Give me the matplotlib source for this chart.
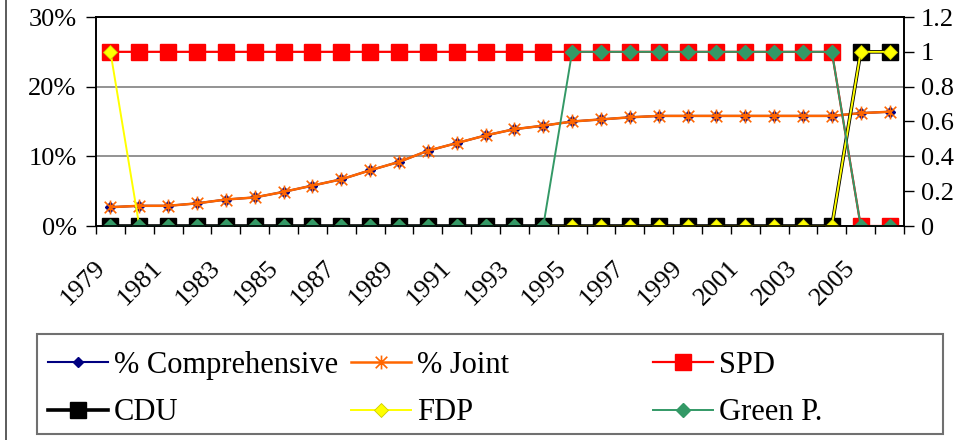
import numpy as np
import matplotlib
matplotlib.use("Agg")
import matplotlib.pyplot as plt
from matplotlib.patches import Rectangle
from matplotlib.lines import Line2D
from matplotlib.path import Path
from matplotlib.transforms import ScaledTranslation

plt.rcParams["font.family"] = ["Liberation Serif", "DejaVu Serif"]

years = list(range(1979, 2007))
comprehensive = [2.7, 2.9, 2.9, 3.25, 3.8, 4.1, 4.9, 5.8, 6.7, 8.0, 9.2, 10.8, 11.9, 13.0,
                 13.9, 14.4, 15.0, 15.3, 15.6, 15.8, 15.8, 15.8, 15.8, 15.8, 15.8, 15.8, 16.2, 16.4]
joint = [2.7, 2.9, 2.9, 3.25, 3.8, 4.1, 4.9, 5.8, 6.7, 8.0, 9.2, 10.8, 11.9, 13.0,
         13.9, 14.4, 15.0, 15.3, 15.6, 15.8, 15.8, 15.8, 15.8, 15.8, 15.8, 15.8, 16.2, 16.4]
spd = [1] * 26 + [0, 0]
cdu = [0] * 26 + [1, 1]
fdp = [1] + [0] * 25 + [1, 1]
green = [0] * 16 + [1] * 10 + [0, 0]

x = np.arange(len(years))

# excel style asterisk: an X with a vertical bar through it
star = Path([(-1, -1), (1, 1), (-1, 1), (1, -1), (0, -1.2), (0, 1.2)],
            [Path.MOVETO, Path.LINETO, Path.MOVETO, Path.LINETO, Path.MOVETO, Path.LINETO])

fig = plt.figure(figsize=(9.64, 4.4), dpi=100)
ax = fig.add_axes([96 / 964, 1 - 226 / 440, 808 / 964, 209 / 440])
ax2 = ax.twinx()

# left axis: percentages
l_comp, = ax.plot(x, comprehensive, color="#000080", lw=1.5, marker="D", ms=5.5,
                  mfc="#000080", mec="#000080", label="% Comprehensive", zorder=3)
l_joint, = ax.plot(x, joint, color="#FF6600", lw=1.8, marker=star, ms=10,
                   mec="#FF6600", mew=1.2, label="% Joint", zorder=4)

# right axis: party indicators
l_spd, = ax2.plot(x, spd, color="#FF0000", lw=1.6, marker="s", ms=11,
                  mfc="#FF0000", mec="#FF0000", label="SPD")
l_cdu, = ax2.plot(x, cdu, color="black", lw=2.6, marker="s", ms=11,
                  mfc="black", mec="black", label="CDU")
l_fdp, = ax2.plot(x, fdp, color="#FFFF00", lw=1.4, marker="D", ms=7.5,
                  mfc="#FFFF00", mec="#CCCC00", mew=0.6, label="FDP")
l_green, = ax2.plot(x, green, color="#339966", lw=1.4, marker="D", ms=7.5,
                    mfc="#339966", mec="#339966", label="Green P.")

ax.set_xlim(-0.5, len(years) - 0.5)
ax.set_ylim(0, 30)
ax2.set_ylim(0, 1.2)

ax.tick_params(axis="x", which="major", length=0, pad=6)
ax.tick_params(axis="x", which="minor", length=6, direction="out", width=1)
ax.tick_params(axis="y", length=7, width=1, direction="out", pad=7)
ax2.tick_params(axis="y", length=7, width=1, direction="out", pad=5)

ax.set_yticks([0, 10, 20, 30])
ax.set_yticklabels([f"{v}%" for v in [0, 10, 20, 30]], fontsize=19)
ax2.set_yticks([0, 0.2, 0.4, 0.6, 0.8, 1.0, 1.2])
ax2.set_yticklabels(["0", "0.2", "0.4", "0.6", "0.8", "1", "1.2"], fontsize=19)
ax.yaxis.grid(True, color="#808080", lw=1.2)
ax.set_axisbelow(True)

ax.set_xticks(np.arange(-0.5, len(years), 1), minor=True)
ax.set_xticks(x[::2])
ax.set_xticklabels([str(y) for y in years[::2]], rotation=45, ha="right", va="top",
                   rotation_mode="anchor", fontsize=19)

for a in (ax, ax2):
    for s in a.spines.values():
        s.set_color("black")
        s.set_linewidth(1.2)

# legend: three columns at fixed positions inside one frame
frame = Rectangle((37 / 964, 1 - 434 / 440), 906 / 964, 100 / 440, transform=fig.transFigure,
                  fill=False, edgecolor="#707070", lw=1.5)
fig.add_artist(frame)
cols = [([l_comp, l_cdu], 48), ([l_joint, l_fdp], 351), ([l_spd, l_green], 653)]
for handles, px in cols:
    fig.legend(handles=handles, loc="upper left", bbox_to_anchor=(px / 964, 1 - 351 / 440),
               frameon=False, fontsize=22, handlelength=1.95, handletextpad=0.2,
               labelspacing=0.6, borderpad=0, borderaxespad=0, markerscale=1.0)

# outer chart border on the left
fig.add_artist(Line2D([6 / 964, 6 / 964], [0, 1], transform=fig.transFigure, color="#404040", lw=1.2))

# nudge the rotated year labels down and left, after all tick settings are done
fig.canvas.draw()
shift = ScaledTranslation(-12 / 72, -16 / 72, fig.dpi_scale_trans)
for lbl in ax.get_xticklabels():
    lbl.set_transform(lbl.get_transform() + shift)

fig.savefig("out.png", dpi=100)
